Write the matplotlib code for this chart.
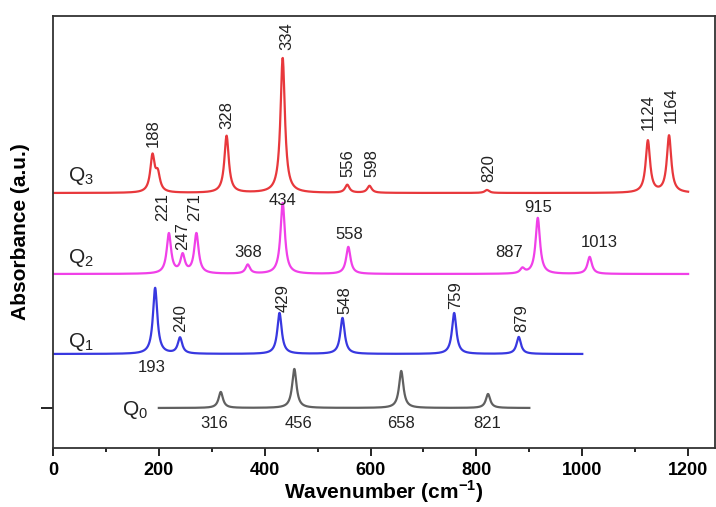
import matplotlib
matplotlib.use("Agg")
import matplotlib.pyplot as plt
import numpy as np

plt.rcParams['font.family'] = ['Liberation Sans', 'DejaVu Sans']

# peak centres (cm-1) and heights
q3_pos = [188, 198, 328, 434, 556, 598, 820, 1124, 1164]
q3_amp = [36, 17, 57, 135, 8, 7, 3, 52, 57]
q2_pos = [219, 245, 271, 368, 434, 558, 887, 916, 1014]
q2_amp = [40, 18, 40, 9, 71, 27, 5, 56, 17]
q1_pos = [193, 240, 428, 547, 758, 880]
q1_amp = [66, 16, 41, 36, 41, 17]
q0_pos = [317, 456, 658, 822]
q0_amp = [16, 39, 37, 14]

# vertical offset of each trace and its x range
offsets = [255, 174, 94, 40]
ranges = [(0, 1200), (0, 1200), (0, 1000), (200, 900)]
names = ['3', '2', '1', '0']
colors = ['#e8383c', '#f040e8', '#3838e0', '#606060']

# peak labels: text, x, y, rotation
q3_labels = [('188', 189, 315, 90), ('328', 328, 333, 90), ('334', 442, 412, 90),
             ('556', 557, 285, 90), ('598', 602, 285, 90), ('820', 823, 280, 90),
             ('1124', 1125, 336, 90), ('1164', 1168, 343, 90)]
q2_labels = [('221', 207, 241, 90), ('247', 245, 212, 90), ('271', 268, 241, 90),
             ('368', 368, 196, 0), ('434', 434, 248, 0), ('558', 560, 214, 0),
             ('887', 862, 196, 0), ('915', 917, 241, 0), ('1013', 1032, 206, 0)]
q1_labels = [('193', 187, 80, 0), ('240', 241, 130, 90), ('429', 434, 150, 90),
             ('548', 551, 148, 90), ('759', 760, 153, 90), ('879', 885, 130, 90)]
q0_labels = [('316', 304, 24, 0), ('456', 464, 24, 0), ('658', 657, 24, 0),
             ('821', 821, 24, 0)]


def spectrum(x, pos, amp, w=5.0):
  y = np.zeros_like(x)
  for p, a in zip(pos, amp):
    y += a * w**2 / ((x - p)**2 + w**2)
  return y


fig = plt.figure(figsize=(7.16, 5.07), dpi=100)
ax = fig.add_axes([0.074, 0.1164, 0.924, 0.852])

all_pos = [q3_pos, q2_pos, q1_pos, q0_pos]
all_amp = [q3_amp, q2_amp, q1_amp, q0_amp]
all_labels = [q3_labels, q2_labels, q1_labels, q0_labels]

for pos, amp, off, (x0, x1), c in zip(all_pos, all_amp, offsets, ranges, colors):
  x = np.linspace(x0, x1, 3000)
  ax.plot(x, off + spectrum(x, pos, amp), color=c, lw=1.6)

for labels in all_labels:
  for txt, lx, ly, rot in labels:
    ax.text(lx, ly, txt, rotation=rot, ha='center', va='center',
            fontsize=12, color='#222222')

# trace names
qx = [52, 52, 52, 155]
qy = [272, 190, 106, 38]
for n, x, y in zip(names, qx, qy):
  ax.text(x, y, r'Q$_\mathregular{%s}$' % n, ha='center', va='center',
          fontsize=15, color='#222222')

ax.set_xlim(0, 1250)
ax.set_ylim(0, 432)
ax.set_xticks([0, 200, 400, 600, 800, 1000, 1200])
ax.set_xticks(np.arange(100, 1250, 200), minor=True)
ax.set_yticks([40])
ax.set_yticklabels([])
ax.tick_params(axis='x', which='major', direction='out', length=6, width=1.2,
               labelsize=13, pad=4)
ax.tick_params(axis='x', which='minor', direction='out', length=3, width=1.2)
ax.tick_params(axis='y', direction='out', length=9, width=1.2)
for lbl in ax.get_xticklabels():
  lbl.set_fontweight('bold')
for s in ax.spines.values():
  s.set_linewidth(1.3)
  s.set_color('#333333')

ax.set_xlabel('Wavenumber (cm$^{\\mathregular{-1}}$)', fontsize=15,
              fontweight='bold', labelpad=0)
ax.set_ylabel('Absorbance (a.u.)', fontsize=15, fontweight='bold', labelpad=4)

fig.savefig('out.png', dpi=100)
